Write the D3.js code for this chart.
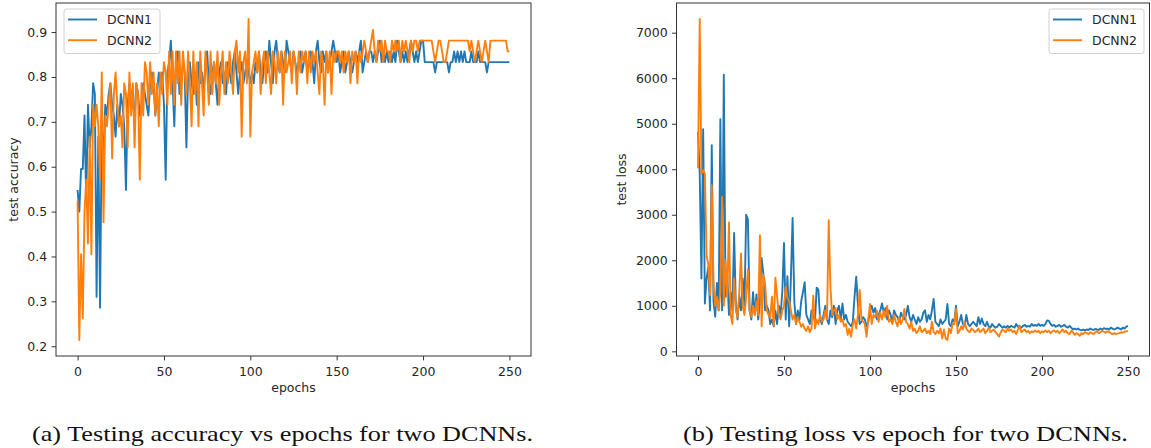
<!DOCTYPE html>
<html lang="en">
<head>
    <meta charset="UTF-8">
    <title>DCNN test accuracy and loss</title>
    <script src="https://d3js.org/d3.v7.min.js"></script>
    <style>
        body { margin: 0; background: #fff; }
        svg { display: block; font-family: "DejaVu Sans", sans-serif; }
        .axis text { font-size: 12.5px; fill: #262626; font-family: "DejaVu Sans", sans-serif; }
        .axis line { stroke: #333; stroke-width: 1; }
        .frame { fill: none; stroke: #333; stroke-width: 1; }
        .label { font-size: 12.5px; fill: #262626; }
        .caption { font-family: "Liberation Serif", serif; font-size: 21px; fill: #111; }
        .line { fill: none; stroke-width: 1.9px; stroke-linejoin: round; }
        .legend-box { fill: #fff; fill-opacity: 0.8; stroke: #d0d0d0; stroke-width: 1; }
    </style>
</head>
<body>
<div id="canvas"></div>
<script>
    // epochs 0..250
    var epochs = d3.range(0, 251);

    var seriesNames = ["DCNN1", "DCNN2"];
    var colors = ["#1f77b4", "#ff7f0e"];

    // test accuracy
    var accDCNN1 = [
        0.548,0.5,0.595,0.595,0.714,0.524,0.738,0.643,0.69,0.786,
        0.762,0.31,0.667,0.286,0.69,0.619,0.738,0.714,0.762,0.786,
        0.738,0.714,0.667,0.738,0.69,0.762,0.738,0.69,0.548,0.738,
        0.786,0.762,0.738,0.714,0.786,0.762,0.714,0.738,0.786,0.762,
        0.738,0.714,0.786,0.81,0.786,0.714,0.762,0.81,0.786,0.81,
        0.738,0.571,0.81,0.833,0.881,0.786,0.69,0.833,0.857,0.762,
        0.786,0.833,0.81,0.643,0.81,0.833,0.786,0.762,0.81,0.738,
        0.833,0.786,0.81,0.762,0.833,0.857,0.786,0.762,0.81,0.833,
        0.786,0.738,0.81,0.833,0.786,0.81,0.762,0.833,0.81,0.786,
        0.833,0.857,0.81,0.762,0.81,0.833,0.786,0.81,0.833,0.81,
        0.786,0.81,0.786,0.833,0.81,0.857,0.81,0.786,0.833,0.857,
        0.81,0.881,0.833,0.786,0.857,0.881,0.833,0.81,0.857,0.833,
        0.81,0.881,0.857,0.833,0.81,0.857,0.833,0.81,0.833,0.857,
        0.81,0.833,0.857,0.81,0.833,0.857,0.833,0.786,0.857,0.881,
        0.833,0.81,0.857,0.833,0.857,0.81,0.833,0.857,0.881,0.857,
        0.833,0.857,0.81,0.833,0.857,0.81,0.833,0.857,0.833,0.81,
        0.833,0.857,0.833,0.857,0.881,0.81,0.833,0.857,0.833,0.857,
        0.857,0.833,0.857,0.833,0.857,0.881,0.833,0.857,0.833,0.857,
        0.833,0.857,0.833,0.857,0.833,0.881,0.857,0.833,0.857,0.833,
        0.857,0.833,0.857,0.881,0.857,0.833,0.857,0.833,0.857,0.881,
        0.881,0.833,0.833,0.833,0.833,0.833,0.833,0.81,0.833,0.833,
        0.833,0.833,0.833,0.833,0.833,0.81,0.833,0.833,0.857,0.833,
        0.857,0.833,0.857,0.833,0.857,0.833,0.833,0.833,0.857,0.833,
        0.833,0.833,0.857,0.833,0.833,0.833,0.833,0.81,0.833,0.833,
        0.833,0.833,0.833,0.833,0.833,0.833,0.833,0.833,0.833,0.833,
        0.833
    ];
    var accDCNN2 = [
        0.524,0.214,0.405,0.262,0.5,0.571,0.429,0.667,0.405,0.738,
        0.69,0.738,0.69,0.571,0.81,0.476,0.714,0.69,0.738,0.786,
        0.619,0.762,0.81,0.738,0.69,0.714,0.643,0.786,0.762,0.643,
        0.81,0.714,0.786,0.643,0.786,0.762,0.571,0.786,0.714,0.833,
        0.81,0.738,0.833,0.762,0.81,0.714,0.786,0.69,0.81,0.762,
        0.833,0.81,0.738,0.857,0.762,0.857,0.738,0.857,0.786,0.857,
        0.738,0.857,0.81,0.762,0.857,0.786,0.69,0.857,0.762,0.833,
        0.69,0.857,0.786,0.714,0.857,0.81,0.738,0.857,0.762,0.833,
        0.786,0.857,0.738,0.81,0.857,0.762,0.833,0.786,0.857,0.81,
        0.762,0.857,0.881,0.81,0.857,0.667,0.833,0.857,0.786,0.929,
        0.667,0.81,0.833,0.857,0.81,0.857,0.762,0.833,0.857,0.786,
        0.857,0.81,0.762,0.857,0.833,0.786,0.857,0.81,0.857,0.738,
        0.857,0.81,0.833,0.857,0.786,0.857,0.833,0.762,0.857,0.81,
        0.857,0.833,0.857,0.786,0.857,0.81,0.857,0.833,0.857,0.81,
        0.762,0.857,0.833,0.738,0.857,0.81,0.857,0.762,0.857,0.833,
        0.857,0.857,0.833,0.857,0.81,0.857,0.833,0.857,0.786,0.857,
        0.833,0.857,0.786,0.857,0.833,0.857,0.881,0.857,0.833,0.857,
        0.881,0.905,0.857,0.833,0.881,0.857,0.881,0.833,0.881,0.857,
        0.857,0.833,0.881,0.857,0.881,0.857,0.881,0.833,0.881,0.857,
        0.881,0.857,0.833,0.881,0.857,0.881,0.881,0.857,0.881,0.881,
        0.881,0.881,0.881,0.881,0.881,0.881,0.857,0.833,0.857,0.881,
        0.881,0.857,0.833,0.833,0.857,0.881,0.881,0.881,0.881,0.881,
        0.881,0.881,0.881,0.881,0.881,0.881,0.881,0.857,0.881,0.857,
        0.833,0.857,0.881,0.857,0.833,0.857,0.881,0.857,0.833,0.881,
        0.881,0.881,0.881,0.881,0.881,0.881,0.881,0.881,0.881,0.857,
        0.857
    ];

    // test loss
    var lossDCNN1 = [
        4820,3900,1600,4880,1050,1600,1850,900,4530,1100,
        760,1500,900,5100,900,6080,1200,1700,800,1300,
        900,2600,1000,700,1200,900,1600,1000,3000,2900,
        900,700,1300,800,1250,700,1100,2050,1700,900,
        1000,900,600,700,550,900,600,1000,800,1300,
        2380,700,1650,550,1600,2930,1100,600,900,700,
        1100,1300,1520,800,700,600,900,800,650,1400,
        1350,700,600,800,1000,700,600,900,750,1000,
        600,900,1000,700,1050,700,800,650,600,550,
        650,1200,1640,1000,600,650,750,700,550,650,
        900,1000,850,950,700,800,900,1050,850,950,
        700,900,800,650,900,800,750,650,850,750,
        700,800,1000,750,650,800,700,600,750,650,
        700,850,900,650,800,700,900,1150,650,600,
        550,700,600,650,700,1040,600,550,700,650,
        1000,550,650,800,600,550,800,600,550,600,
        650,600,550,750,600,720,600,550,650,550,
        520,600,550,520,540,600,560,520,550,520,
        560,520,560,540,520,600,540,560,520,560,
        580,540,560,540,600,560,580,560,600,560,
        580,560,600,680,670,600,560,580,540,560,
        580,540,560,580,540,520,560,520,480,500,
        480,500,470,460,480,460,480,470,500,480,
        470,490,480,470,500,480,510,490,500,480,
        520,500,480,500,520,500,480,520,500,540,
        560
    ];
    var lossDCNN2 = [
        4020,7300,3900,3980,3900,2100,1900,1240,3650,1500,
        1000,1200,900,1300,3400,1000,2000,1200,2830,800,
        600,1600,900,750,1300,2150,1000,800,1200,1800,
        900,750,1000,800,1100,800,2550,550,1680,1500,
        900,800,750,1200,550,1620,1200,800,700,900,
        1000,1420,1170,1100,900,700,800,600,750,650,
        540,600,500,450,550,420,500,1220,500,700,
        600,800,650,700,900,700,2880,1400,800,900,
        950,700,800,650,700,550,600,360,500,320,
        600,700,500,800,1350,700,650,600,320,700,
        1040,600,800,750,900,650,850,700,900,750,
        1000,650,700,600,800,650,550,750,600,700,
        930,650,600,500,650,450,500,400,450,550,
        420,450,500,400,450,380,650,420,380,450,
        400,500,280,480,280,250,500,400,600,600,
        930,400,450,550,480,650,500,450,420,500,
        470,420,450,500,420,460,500,400,450,520,
        420,450,480,420,380,320,420,480,450,420,
        500,450,480,420,450,380,470,560,420,450,
        480,420,450,400,440,420,460,420,450,400,
        440,420,460,420,450,400,440,460,420,450,
        400,440,480,420,450,400,380,450,420,360,
        400,380,340,400,380,420,400,380,420,400,
        380,420,440,400,420,450,430,410,440,430,
        400,380,400,380,390,400,420,410,430,440,
        450
    ];

    var xTicks = [0, 50, 100, 150, 200, 250];
    var accTicks = [0.2, 0.3, 0.4, 0.5, 0.6, 0.7, 0.8, 0.9];
    var lossTicks = [0, 1000, 2000, 3000, 4000, 5000, 6000, 7000];

    var svg = d3.select("#canvas")
        .append("svg")
        .attr("width", 1151)
        .attr("height", 448);

    // matplotlib style 5% padding around the data
    function padded(ext) {
        var p = (ext[1] - ext[0]) * 0.05;
        return [ext[0] - p, ext[1] + p];
    }

    function drawPanel(opt) {
        var x = d3.scaleLinear()
            .domain(padded(d3.extent(epochs)))
            .range([opt.left, opt.right]);

        var y = d3.scaleLinear()
            .domain(padded(d3.extent(opt.series[0].concat(opt.series[1]))))
            .range([opt.bottom, opt.top]);

        var g = svg.append("g");

        // x axis
        g.append("g")
            .attr("class", "axis")
            .attr("transform", "translate(0," + opt.bottom + ")")
            .call(d3.axisBottom(x).tickValues(xTicks).tickSize(4.4).tickPadding(6.5).tickFormat(d3.format("d")))
            .call(function(a) { a.select(".domain").remove(); });

        // y axis
        g.append("g")
            .attr("class", "axis")
            .attr("transform", "translate(" + opt.left + ",0)")
            .call(d3.axisLeft(y).tickValues(opt.yTicks).tickSize(4.4).tickPadding(4.4).tickFormat(opt.yFormat))
            .call(function(a) { a.select(".domain").remove(); });

        // lines
        var line = d3.line()
            .x(function(d, i) { return x(epochs[i]); })
            .y(function(d) { return y(d); });

        opt.series.forEach(function(s, k) {
            g.append("path")
                .datum(s)
                .attr("class", "line")
                .attr("stroke", colors[k])
                .attr("d", line);
        });

        // frame
        g.append("rect")
            .attr("class", "frame")
            .attr("x", opt.left)
            .attr("y", opt.top)
            .attr("width", opt.right - opt.left)
            .attr("height", opt.bottom - opt.top);

        // axis labels
        g.append("text")
            .attr("class", "label")
            .attr("text-anchor", "middle")
            .attr("x", (opt.left + opt.right) / 2)
            .attr("y", 392)
            .text("epochs");

        g.append("text")
            .attr("class", "label")
            .attr("text-anchor", "middle")
            .attr("transform", "translate(" + opt.yLabelX + "," + (opt.top + opt.bottom) / 2 + ") rotate(-90)")
            .attr("dy", "0.35em")
            .text(opt.yLabel);

        // legend
        var lg = g.append("g").attr("transform", "translate(" + opt.legendX + "," + opt.legendY + ")");
        lg.append("rect")
            .attr("class", "legend-box")
            .attr("width", opt.legendW)
            .attr("height", 44.5)
            .attr("rx", 2.5);
        seriesNames.forEach(function(name, k) {
            var ly = 10.5 + k * 20.7;
            lg.append("line")
                .attr("x1", 4).attr("x2", 33)
                .attr("y1", ly).attr("y2", ly)
                .attr("stroke", colors[k])
                .attr("stroke-width", 1.9);
            lg.append("text")
                .attr("class", "label")
                .attr("x", 43)
                .attr("y", ly)
                .attr("dy", "0.35em")
                .text(name);
        });

        // caption
        svg.append("text")
            .attr("class", "caption")
            .attr("x", opt.capX)
            .attr("y", 441)
            .attr("textLength", opt.capW)
            .attr("lengthAdjust", "spacingAndGlyphs")
            .text(opt.caption);
    }

    drawPanel({
        left: 56, right: 531, top: 3, bottom: 356,
        series: [accDCNN1, accDCNN2],
        yTicks: accTicks, yFormat: d3.format(".1f"),
        yLabel: "test accuracy", yLabelX: 14,
        legendX: 64, legendY: 9, legendW: 96,
        caption: "(a) Testing accuracy vs epochs for two DCNNs.",
        capX: 32, capW: 501
    });

    drawPanel({
        left: 676.5, right: 1149.5, top: 3, bottom: 356,
        series: [lossDCNN1, lossDCNN2],
        yTicks: lossTicks, yFormat: d3.format("d"),
        yLabel: "test loss", yLabelX: 621.7,
        legendX: 1049, legendY: 9, legendW: 95,
        caption: "(b) Testing loss vs epoch for two DCNNs.",
        capX: 683, capW: 445
    });
</script>
</body>
</html>
